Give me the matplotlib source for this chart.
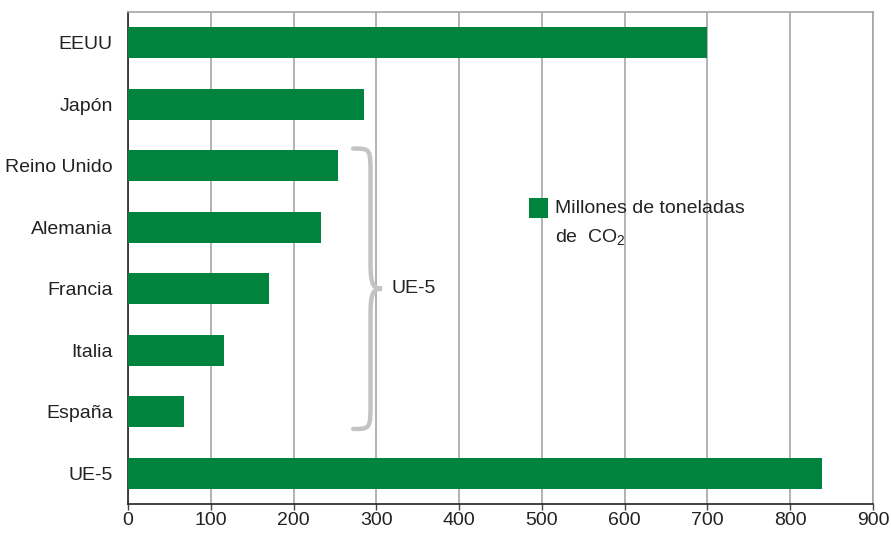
import numpy as np
import matplotlib.pyplot as plt
from matplotlib.path import Path
from matplotlib.patches import PathPatch, Rectangle

plt.rcParams['font.family'] = ['Liberation Sans', 'DejaVu Sans']
plt.rcParams['mathtext.fontset'] = 'custom'
plt.rcParams['mathtext.rm'] = 'Liberation Sans'

paises = ["EEUU", "Japón", "Reino Unido", "Alemania", "Francia", "Italia", "España", "UE-5"]
emisiones = [700, 285, 254, 233, 170, 116, 68, 838]
xticks = [0, 100, 200, 300, 400, 500, 600, 700, 800, 900]

verde = '#00843d'
texto = '#222222'

fig = plt.figure(figsize=(8.91, 5.33), dpi=100)
ax = fig.add_axes([0.1437, 0.0544, 0.836, 0.9231])

y = np.arange(len(paises))
ax.barh(y, emisiones, height=0.5, color=verde, zorder=3)

ax.set_xlim(0, 900)
ax.set_ylim(len(paises) - 0.5, -0.5)
ax.set_xticks(xticks)
ax.set_yticks(y)
ax.set_yticklabels(paises, fontsize=14, color=texto)
ax.tick_params(axis='y', length=0, pad=11)
ax.tick_params(axis='x', labelsize=14, labelcolor=texto, length=4, width=1, color='#444444', pad=2)
ax.grid(axis='x', color='#a6a6a6', linewidth=1.2, zorder=0)
for s in ['top', 'right']:
    ax.spines[s].set_color('#a6a6a6')
    ax.spines[s].set_linewidth(1.2)
for s in ['left', 'bottom']:
    ax.spines[s].set_color('#222222')
    ax.spines[s].set_linewidth(1.2)

# llave UE-5
x0, xm, x1 = 272, 293, 307
ya, yb, ym = 1.72, 6.28, 4.0
verts = [
    (x0, ya),
    (xm, ya), (xm, ya), (xm, ya + 0.45),
    (xm, ym - 0.4),
    (xm, ym - 0.05), (xm + 4, ym), (x1, ym),
    (xm + 4, ym), (xm, ym + 0.05), (xm, ym + 0.4),
    (xm, yb - 0.45),
    (xm, yb), (xm, yb), (x0, yb),
]
codes = [Path.MOVETO,
         Path.CURVE4, Path.CURVE4, Path.CURVE4,
         Path.LINETO,
         Path.CURVE4, Path.CURVE4, Path.CURVE4,
         Path.CURVE4, Path.CURVE4, Path.CURVE4,
         Path.LINETO,
         Path.CURVE4, Path.CURVE4, Path.CURVE4]
ax.add_patch(PathPatch(Path(verts, codes), facecolor='none', edgecolor='#c4c4c4',
                       linewidth=3.2, zorder=4, capstyle='round'))
ax.text(318, ym, "UE-5", fontsize=14, va='center', ha='left', color=texto, zorder=5)

# leyenda
ax.add_patch(Rectangle((467, 2.35), 290, 1.07, facecolor='white', edgecolor='none', zorder=1))
ax.add_patch(Rectangle((484, 2.52), 24, 0.33, facecolor=verde, edgecolor='none', zorder=3))
ax.text(516, 2.69, "Millones de toneladas", fontsize=14, va='center', ha='left', color=texto, zorder=5)
ax.text(516, 3.17, "de  $\\mathrm{CO}_2$", fontsize=14, va='center', ha='left', color=texto, zorder=5)

fig.savefig('out.png', dpi=100)
